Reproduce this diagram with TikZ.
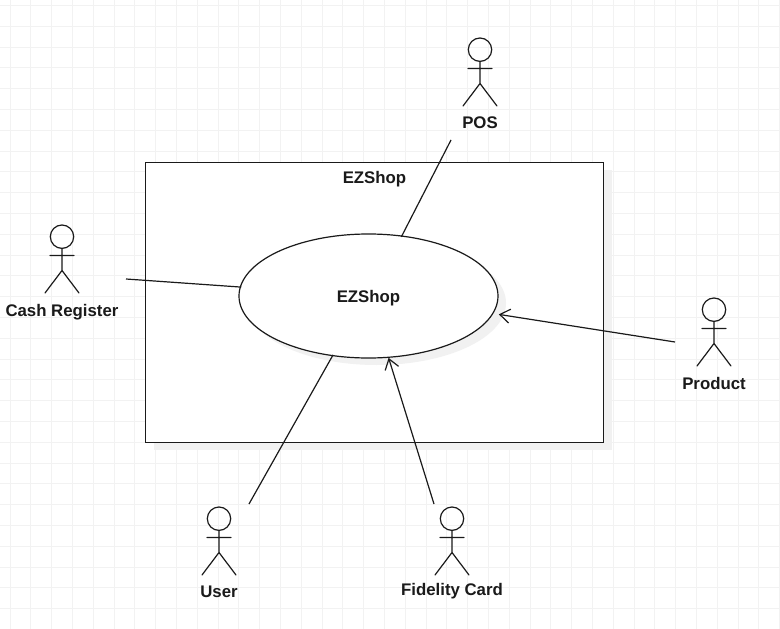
\documentclass[tikz,border=0pt]{standalone}
\usepackage{fontspec}
\setmainfont{Liberation Sans}
\usetikzlibrary{arrows.meta,shapes.geometric}
\definecolor{gridc}{HTML}{F2F2F2}
\definecolor{shadowc}{HTML}{F1F1F1}
\definecolor{inkc}{HTML}{1A1A1A}
\tikzset{
  gridline/.style={draw=gridc,line width=1pt},
  inkline/.style={draw=inkc,line width=1.2pt},
  lab/.style={font=\fontsize{16.8}{18}\selectfont\bfseries,text=inkc,inner sep=0pt,anchor=center},
  assoc/.style={inkline,shorten >=-1.5pt},
  navassoc/.style={inkline,-{Straight Barb[length=10pt,width=14pt,line width=1.2pt]}},
  actorbox/.style={minimum width=34pt,minimum height=68pt,inner sep=0pt,anchor=north},
  system/.style={inkline,line width=1.5pt,fill=white,minimum width=458pt,minimum height=280pt,inner sep=0pt},
  usecase/.style={inkline,ellipse,fill=white,minimum width=259pt,minimum height=124pt,inner sep=0pt},
  syssh/.style={fill=shadowc,minimum width=458pt,minimum height=280pt,inner sep=0pt},
  ucsh/.style={fill=shadowc,ellipse,minimum width=259pt,minimum height=124pt,inner sep=0pt}
}
% name, x of centre, y of head top, label text, y of label
\newcommand{\umlactor}[5]{%
  \node[actorbox] (#1) at (#2,#3) {};
  \draw[inkline] (#2,#3+11.7) circle (11.7pt);
  \draw[inkline,line cap=round] (#2,#3+23.4) -- (#2,#3+45.5)
     (#2-12,#3+30.5) -- (#2+12,#3+30.5)
     (#2-17,#3+68) -- (#2,#3+45.5) -- (#2+17,#3+68);
  \node[lab] (#1lab) at (#2,#5) {#4};
}
\begin{document}
\begin{tikzpicture}[x=1pt,y=-1pt]
\useasboundingbox (0,0) rectangle (780,629);
\fill[white] (0,0) rectangle (780,629);
\foreach \i in {0,...,37} \draw[gridline] ({10+20.8*\i},0) -- ({10+20.8*\i},629);
\foreach \i in {0,...,30} \draw[gridline] (0,{5.5+20.8*\i}) -- (780,{5.5+20.8*\i});

\node[syssh] at (383.3,310.3) {};
\node[system] (sys) at (374.3,302.3) {};
\node[lab] (systitle) at (374.5,179) {EZShop};
\node[ucsh] at (376.5,303) {};
\node[usecase] (uc) at (368.5,296) {};
\node[lab] at (368.5,298) {EZShop};

\umlactor{pos}{480}{38}{POS}{123}
\umlactor{cash}{62}{225}{Cash Register}{312}
\umlactor{product}{714}{298}{Product}{383.5}
\umlactor{user}{219}{507}{User}{591.5}
\umlactor{fid}{452}{507}{Fidelity Card}{591.5}

\coordinate (posend) at (451,140);
\coordinate (cashend) at (126,279);
\coordinate (prodend) at (675,342);
\coordinate (userend) at (249,504);
\coordinate (fidend) at (434,504);

\draw[assoc] (posend) -- (uc.61);
\draw[assoc] (cashend) -- (uc.176);
\draw[navassoc,shorten >=5.5pt] (prodend) -- (uc.-8.5);
\draw[assoc] (userend) -- (uc.-121);
\draw[navassoc] (fidend) -- (uc.-72);
\end{tikzpicture}
\end{document}
